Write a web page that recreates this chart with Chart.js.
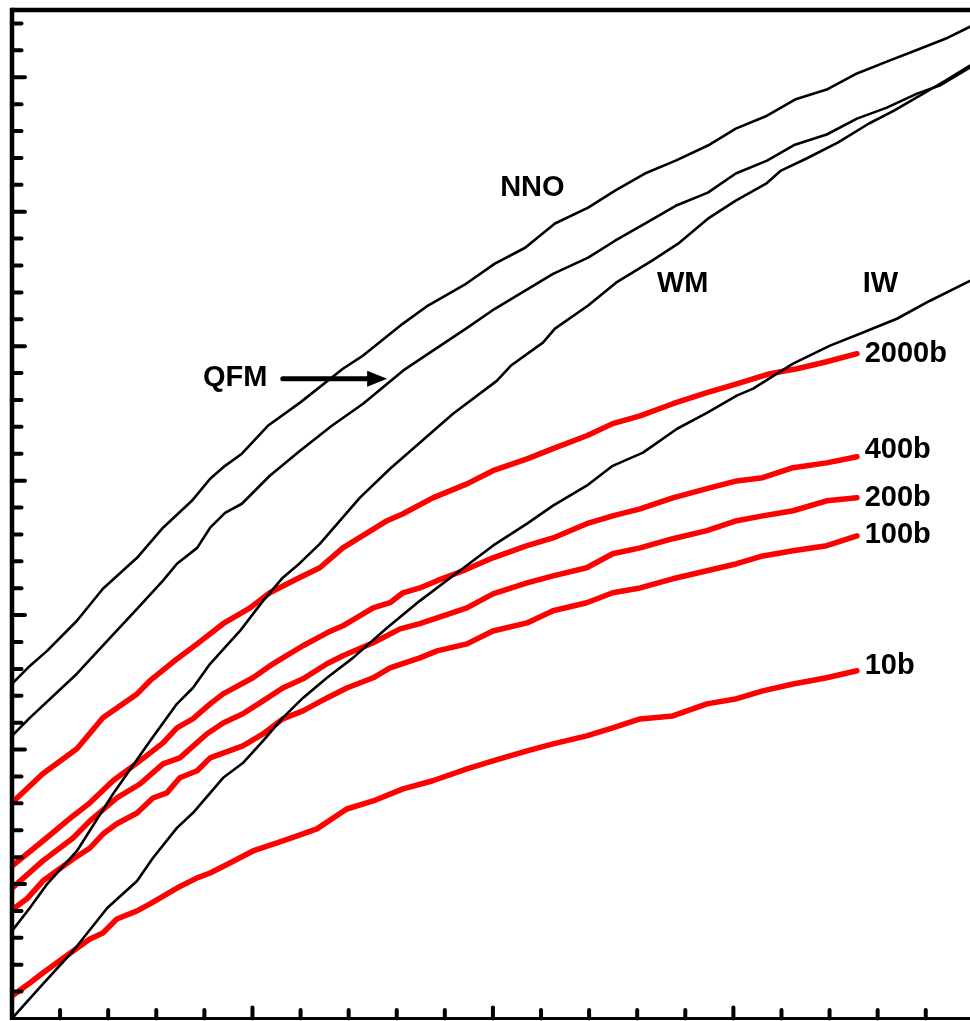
<!DOCTYPE html>
<html>
<head>
<meta charset="utf-8">
<script src="https://cdn.jsdelivr.net/npm/chart.js@4/dist/chart.umd.min.js"></script>
<style>
html,body{margin:0;padding:0;background:#fff;}
#wrap{width:970px;height:1021px;position:relative;}
</style>
</head>
<body>
<div id="wrap"><canvas id="c"></canvas></div>
<script>
// ---- axis ranges (arbitrary units: one unit per minor tick) ----
const xRange = [0, 19.92];
const yRange = [0, 37.5];
const minorStep = 1;
const majorEvery = 5;

// ---- buffer curves (black) ----
const nnoX = [0,0.37,0.73,1.35,1.89,2.60,3.14,3.74,4.12,4.43,4.78,5.32,5.99,6.88,7.30,8.13,8.65,9.44,10.04,10.67,11.29,11.98,12.54,13.16,13.80,14.47,15.05,15.70,16.28,16.94,17.57,18.19,18.84,19.46,19.92];
const nnoY = [12.44,13.11,13.67,14.79,15.98,17.13,18.25,19.25,20.07,20.55,21.00,22.04,22.90,24.16,24.65,25.84,26.51,27.32,28.07,28.66,29.56,30.15,30.78,31.42,31.90,32.46,33.09,33.57,34.17,34.54,35.14,35.58,36.03,36.47,36.88];

const qfmX = [0,0.37,1.35,1.98,2.60,3.14,3.43,3.85,4.12,4.43,4.78,5.36,5.99,6.65,7.30,8.13,8.69,9.44,10.04,11.25,11.98,12.54,13.16,13.80,14.47,15.05,15.70,16.28,16.94,17.57,18.19,18.82,19.29,19.92];
const qfmY = [10.51,11.18,12.82,14.04,15.23,16.28,16.91,17.50,18.25,18.80,19.14,20.18,21.11,22.04,22.86,24.09,24.76,25.65,26.39,27.69,28.29,28.92,29.56,30.22,30.71,31.42,31.90,32.49,32.87,33.46,33.87,34.39,34.69,35.36];

const wmX = [0,0.37,0.73,1.35,2.10,2.87,3.43,3.76,4.12,4.74,5.22,5.63,5.99,6.40,6.82,7.23,7.86,8.48,9.17,10.08,10.37,11.04,11.29,11.98,12.56,13.31,13.85,14.47,15.05,15.68,15.99,16.51,17.17,17.82,18.34,18.84,19.42,19.92];
const wmY = [3.26,4.11,5.00,6.23,8.35,10.32,11.70,12.29,13.19,14.41,15.53,16.39,16.94,17.65,18.51,19.36,20.44,21.41,22.49,23.71,24.27,25.13,25.65,26.51,27.36,28.18,28.81,29.74,30.41,31.04,31.53,31.97,32.57,33.28,33.76,34.28,34.88,35.43];

const iwX = [0,0.64,1.27,1.98,2.60,2.93,3.43,3.76,4.39,4.80,5.22,5.63,6.05,6.55,7.09,7.80,8.48,9.31,10.00,10.71,11.25,11.95,12.49,13.12,13.83,14.45,15.07,15.41,16.24,17.01,17.63,18.40,19.09,19.92];
const iwY = [0,1.28,2.51,4.11,5.11,5.97,7.09,7.64,8.95,9.50,10.32,11.18,11.92,12.67,13.41,14.53,15.53,16.65,17.58,18.40,19.07,19.81,20.55,21.04,21.93,22.52,23.16,23.42,24.35,25.02,25.46,26.02,26.69,27.43];

// ---- pressure curves (red) ----
const p2000X = [0,0.64,1.35,1.89,2.60,2.87,3.43,3.85,4.39,4.95,5.36,5.93,6.40,6.88,7.80,8.13,8.75,9.46,10.00,10.71,11.25,11.95,12.49,13.06,13.74,14.45,15.07,15.76,16.32,16.94,17.57];
const p2000Y = [8.02,9.10,10.03,11.18,12.07,12.56,13.37,13.93,14.68,15.27,15.83,16.35,16.76,17.50,18.51,18.77,19.36,19.88,20.37,20.81,21.19,21.67,22.12,22.41,22.86,23.27,23.60,23.98,24.16,24.42,24.72];

const p400X = [0,0.64,1.27,1.62,2.10,2.66,3.14,3.43,3.76,4.12,4.39,5.01,5.36,5.63,6.05,6.55,6.88,7.51,7.86,8.13,8.48,8.84,9.38,10.00,10.71,11.25,11.95,12.49,13.06,13.74,14.45,15.07,15.61,16.24,16.94,17.57];
const p400Y = [5.67,6.60,7.53,8.02,8.84,9.58,10.25,10.81,11.14,11.70,12.07,12.67,13.11,13.41,13.86,14.34,14.60,15.27,15.46,15.83,16.01,16.28,16.65,17.13,17.58,17.87,18.40,18.69,18.95,19.36,19.70,19.99,20.11,20.48,20.66,20.89];

const p200X = [0,0.64,1.27,1.62,2.18,2.66,3.14,3.49,4.05,4.39,4.80,5.22,5.63,6.05,6.55,6.88,7.51,8.07,8.48,8.84,9.46,10.00,10.71,11.25,11.95,12.49,13.06,13.74,14.45,15.07,15.61,16.24,16.94,17.57];
const p200Y = [4.85,5.86,6.71,7.35,8.20,8.72,9.47,9.69,10.58,10.99,11.33,11.81,12.29,12.63,13.19,13.49,13.97,14.49,14.68,14.90,15.27,15.79,16.20,16.46,16.76,17.28,17.50,17.84,18.14,18.51,18.69,18.88,19.25,19.36];

const p100X = [0,0.31,0.64,1.27,1.62,1.89,2.18,2.60,2.93,3.22,3.49,3.85,4.12,4.80,5.22,5.63,6.05,6.55,6.96,7.51,7.86,8.48,8.84,9.46,10.00,10.71,11.25,11.95,12.49,13.06,13.74,14.45,15.07,15.61,16.24,16.94,17.57];
const p100Y = [4.04,4.45,5.11,5.93,6.34,6.86,7.24,7.64,8.20,8.39,8.95,9.21,9.69,10.14,10.58,11.14,11.44,11.92,12.29,12.67,13.04,13.41,13.67,13.93,14.41,14.71,15.16,15.46,15.83,16.01,16.35,16.65,16.91,17.20,17.39,17.58,17.95];

const p10X = [0,0.37,0.64,1.27,1.62,1.89,2.18,2.60,2.87,3.43,3.85,4.12,4.53,5.01,5.51,5.93,6.34,6.96,7.51,8.13,8.75,9.46,10.00,10.71,11.25,11.95,12.49,13.06,13.74,14.45,15.07,15.61,16.24,16.94,17.57];
const p10Y = [0.84,1.32,1.69,2.51,2.96,3.18,3.70,4.00,4.26,4.85,5.23,5.41,5.78,6.23,6.53,6.79,7.05,7.79,8.09,8.54,8.84,9.28,9.58,9.95,10.21,10.51,10.81,11.14,11.25,11.70,11.89,12.18,12.44,12.67,12.93];

// ---- text labels (data units: left edge, baseline) ----
const labelText = ['NNO','QFM','WM','IW','2000b','400b','200b','100b','10b'];
const labelX    = [10.15, 3.97, 13.41, 17.69, 17.73, 17.73, 17.73, 17.73, 17.73];
const labelY    = [30.60, 23.53, 27.03, 27.03, 24.42, 20.85, 19.07, 17.69, 12.82];
// arrow from QFM label to the QFM curve
const arrowX = [5.63, 7.80];
const arrowY = [23.79, 23.79];

function pts(xs, ys){ return xs.map((x,i)=>({x:x, y:ys[i]})); }

const black = '#000000', red = '#ff0000';
function blackSet(xs, ys){ return {data:pts(xs,ys), borderColor:black, borderWidth:2.6, pointRadius:0, tension:0, fill:false, borderJoinStyle:'round', borderCapStyle:'round'}; }
function redSet(xs, ys){ return {data:pts(xs,ys), borderColor:red, borderWidth:5.5, pointRadius:0, tension:0, fill:false, borderJoinStyle:'round', borderCapStyle:'round'}; }

const framePlugin = {
  id:'frame',
  afterDatasetsDraw(chart){
    const ctx = chart.ctx, xs = chart.scales.x, ys = chart.scales.y;
    const L = xs.getPixelForValue(xRange[0]), R = xs.getPixelForValue(xRange[1]);
    const T = ys.getPixelForValue(yRange[1]), B = ys.getPixelForValue(yRange[0]);
    ctx.save();
    ctx.strokeStyle = black; ctx.fillStyle = black;
    // ticks
    ctx.lineCap = 'round'; ctx.lineWidth = 4;
    for (let v = yRange[0] + minorStep; v < yRange[1]; v += minorStep){
      const py = ys.getPixelForValue(v);
      const major = Math.round(v) % majorEvery === 0;
      ctx.beginPath(); ctx.moveTo(L, py); ctx.lineTo(L + (major ? 13 : 9.5), py); ctx.stroke();
    }
    for (let v = xRange[0] + minorStep; v < xRange[1]; v += minorStep){
      const px = xs.getPixelForValue(v);
      const major = Math.round(v) % majorEvery === 0;
      ctx.beginPath(); ctx.moveTo(px, B); ctx.lineTo(px, B - (major ? 11 : 8.5)); ctx.stroke();
    }
    // axes lines
    ctx.lineCap = 'butt';
    ctx.lineWidth = 3;
    ctx.beginPath(); ctx.moveTo(L, B); ctx.lineTo(R, B); ctx.stroke();
    ctx.lineWidth = 4.5;
    ctx.beginPath(); ctx.moveTo(L, T); ctx.lineTo(R, T); ctx.stroke();
    ctx.lineWidth = 4.5;
    ctx.beginPath(); ctx.moveTo(L, T - 2.25); ctx.lineTo(L, B + 1.5); ctx.stroke();
    // labels
    ctx.font = 'bold 29px "Liberation Sans", Arial, sans-serif';
    ctx.textAlign = 'left'; ctx.textBaseline = 'alphabetic';
    labelText.forEach((t,i)=>{
      ctx.fillText(t, xs.getPixelForValue(labelX[i]), ys.getPixelForValue(labelY[i]));
    });
    // arrow
    const ax0 = xs.getPixelForValue(arrowX[0]), ax1 = xs.getPixelForValue(arrowX[1]);
    const ay0 = ys.getPixelForValue(arrowY[0]), ay1 = ys.getPixelForValue(arrowY[1]);
    ctx.lineWidth = 5; ctx.lineCap = 'round';
    ctx.beginPath(); ctx.moveTo(ax0, ay0); ctx.lineTo(ax1 - 16, ay1); ctx.stroke();
    ctx.beginPath(); ctx.moveTo(ax1, ay1); ctx.lineTo(ax1 - 20, ay1 - 8); ctx.lineTo(ax1 - 20, ay1 + 8); ctx.closePath(); ctx.fill();
    ctx.restore();
  }
};

new Chart(document.getElementById('c'), {
  type:'line',
  data:{ datasets:[
    blackSet(nnoX, nnoY), blackSet(qfmX, qfmY), blackSet(wmX, wmY), blackSet(iwX, iwY),
    redSet(p2000X, p2000Y), redSet(p400X, p400Y), redSet(p200X, p200Y), redSet(p100X, p100Y), redSet(p10X, p10Y)
  ]},
  options:{
    responsive:true, maintainAspectRatio:false, animation:false,
    layout:{ padding:{left:12, top:10, right:0, bottom:2.5} },
    plugins:{ legend:{display:false}, tooltip:{enabled:false} },
    events:[],
    scales:{
      x:{ type:'linear', min:xRange[0], max:xRange[1], display:false },
      y:{ type:'linear', min:yRange[0], max:yRange[1], display:false }
    }
  },
  plugins:[framePlugin]
});
</script>
</body>
</html>
